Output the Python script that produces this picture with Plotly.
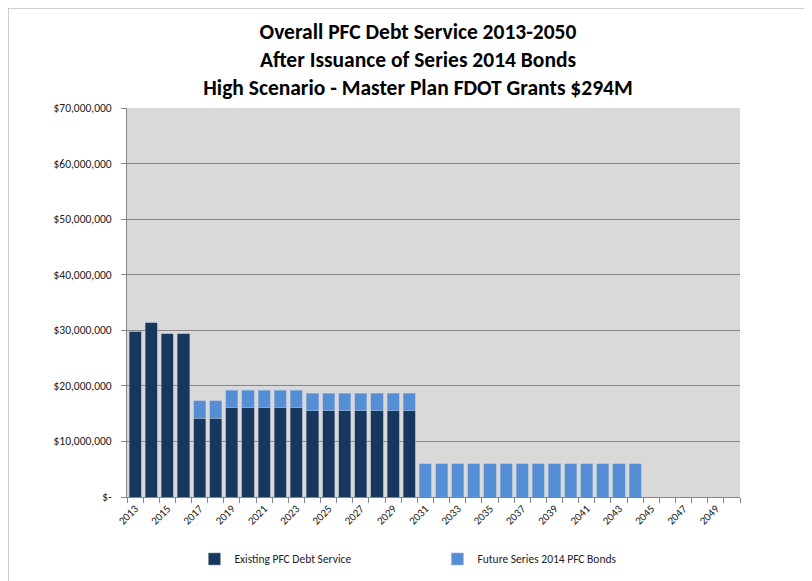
import plotly.graph_objects as go

years = [str(y) for y in range(2013, 2051)]
existing = [29.84, 31.34, 29.35, 29.35, 14.2, 14.2, 16.1, 16.1, 16.1, 16.1, 16.1,
            15.5, 15.5, 15.5, 15.5, 15.55, 15.5, 15.5] + [0] * 20
future = [0, 0, 0, 0, 3.1, 3.1, 3.1, 3.1, 3.1, 3.1, 3.1,
          3.2, 3.2, 3.2, 3.2, 3.15, 3.2, 3.2] + [6.0] * 14 + [0] * 6
existing = [v * 1e6 for v in existing]
future = [v * 1e6 for v in future]

y_ticks = [0, 10e6, 20e6, 30e6, 40e6, 50e6, 60e6, 70e6]
y_labels = ["$-", "$10,000,000", "$20,000,000", "$30,000,000", "$40,000,000",
            "$50,000,000", "$60,000,000", "$70,000,000"]
x_labels = [y if int(y) % 2 == 1 else "" for y in years]

FONT = "Carlito, Calibri, 'Open Sans', sans-serif"

L, R, T, B = 119, 80, 100, 92
PW, PH = 812 - L - R, 581 - T - B

fig = go.Figure()
fig.add_trace(go.Bar(x=years, y=existing, name="Existing PFC Debt Service",
                     marker=dict(color="#17375e", line=dict(color="#8a97a8", width=0.6))))
fig.add_trace(go.Bar(x=years, y=future, name="Future Series 2014 PFC Bonds",
                     marker=dict(color="#558ed5", line=dict(color="#9fb8d8", width=0.6))))

fig.update_layout(
    barmode="stack",
    bargap=0.25,
    width=812, height=581,
    margin=dict(l=L, r=R, t=T, b=B, autoexpand=False),
    paper_bgcolor="white",
    plot_bgcolor="#d9d9d9",
    font=dict(family=FONT, color="#222222", size=11),
    title=dict(text="Overall PFC Debt Service 2013-2050<br>After Issuance of Series 2014 Bonds<br>High Scenario - Master Plan FDOT Grants $294M",
               xref="container", x=(418 - 8) / 812, xanchor="center", y=0.947, yanchor="top",
               font=dict(family=FONT, size=21.5, color="black", weight="bold")),
    showlegend=True,
    legend=dict(orientation="h", x=0.11, xanchor="left", y=-0.122, yanchor="top",
                entrywidth=198, traceorder="normal", font=dict(size=11.5, color="#222222"),
                bgcolor="rgba(0,0,0,0)"),
    xaxis=dict(type="category", tickmode="array", tickvals=years, ticktext=x_labels,
               tickangle=-45, tickson="boundaries", ticks="outside", ticklen=5,
               tickcolor="#868686", showline=True, linecolor="#868686", linewidth=1,
               showgrid=False, tickfont=dict(size=11), automargin=False),
    yaxis=dict(range=[0, 70e6], tickmode="array", tickvals=y_ticks, ticktext=y_labels,
               ticks="outside", ticklen=5, tickcolor="#868686", showline=True,
               linecolor="#868686", linewidth=1, showgrid=True, gridcolor="#868686",
               gridwidth=1, zeroline=False, tickfont=dict(size=11.5), automargin=False,
               ticklabelstandoff=7),
    shapes=[dict(type="rect", xref="paper", yref="paper",
                 x0=(0 - L) / PW, x1=(800 - L) / PW,
                 y0=(T + PH - 600) / PH, y1=(T + PH) / PH,
                 line=dict(color="#bfbfbf", width=1.5), fillcolor="rgba(0,0,0,0)")],
)

fig.write_html("out.html")
